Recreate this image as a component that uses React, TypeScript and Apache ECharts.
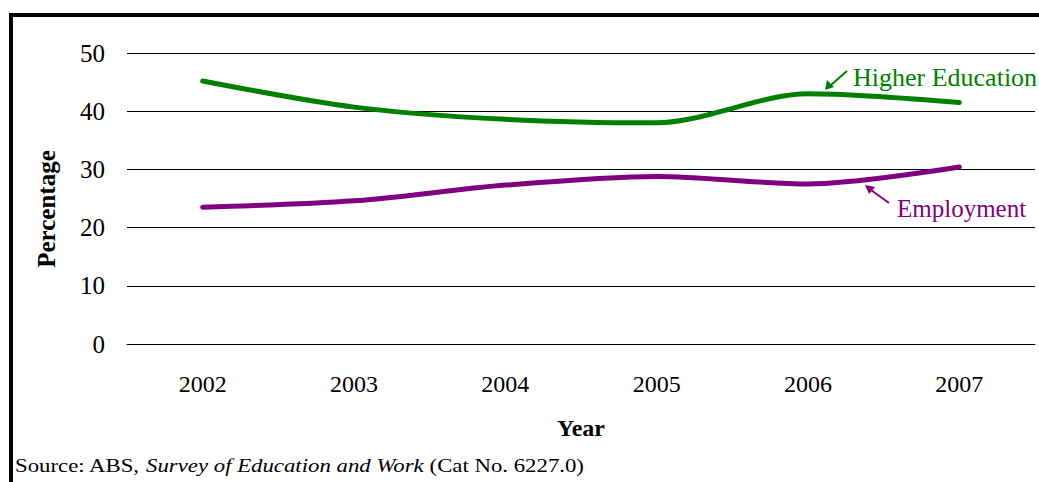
import React, { useEffect, useRef } from "react";
import * as echarts from "echarts";

const years = ["2002", "2003", "2004", "2005", "2006", "2007"];
const higherEducation = [45.2, 40.7, 38.6, 38.0, 43.0, 41.5];
const employment = [23.5, 24.6, 27.3, 28.8, 27.5, 30.4];
const yTicks = { min: 0, max: 50, interval: 10 };

const FONT = "'Liberation Serif', 'Times New Roman', serif";
const GREEN = "#008000";
const PURPLE = "#800080";

export default function App() {
  const ref = useRef<HTMLDivElement>(null);
  useEffect(() => {
    const chart = echarts.init(ref.current!, null, { renderer: "svg" });
    chart.setOption({
      animation: false,
      grid: { left: 127, right: 4, top: 53, bottom: 138, containLabel: false },
      xAxis: {
        type: "category",
        data: years,
        boundaryGap: true,
        axisLine: { show: true, lineStyle: { color: "#000", width: 1 } },
        axisTick: { show: false },
        axisLabel: { color: "#000", fontFamily: FONT, fontSize: 24, margin: 28 },
        name: "Year",
        nameLocation: "middle",
        nameGap: 72,
        nameTextStyle: { color: "#000", fontFamily: FONT, fontSize: 24, fontWeight: "bold" },
      },
      yAxis: {
        type: "value",
        min: yTicks.min,
        max: yTicks.max,
        interval: yTicks.interval,
        axisLine: { show: false },
        axisTick: { show: false },
        splitLine: { lineStyle: { color: "#000", width: 1 } },
        axisLabel: { color: "#000", fontFamily: FONT, fontSize: 25, margin: 22 },
      },
      series: [
        {
          name: "Higher Education",
          type: "line",
          data: higherEducation,
          smooth: 0.3,
          showSymbol: false,
          lineStyle: { color: GREEN, width: 5, cap: "round" },
          itemStyle: { color: GREEN },
        },
        {
          name: "Employment",
          type: "line",
          data: employment,
          smooth: 0.3,
          showSymbol: false,
          lineStyle: { color: PURPLE, width: 5, cap: "round" },
          itemStyle: { color: PURPLE },
        },
      ],
      graphic: [
        { type: "rect", shape: { x: 9, y: 13, width: 1030, height: 4 }, style: { fill: "#000" } },
        { type: "rect", shape: { x: 9, y: 13, width: 4, height: 469 }, style: { fill: "#000" } },
        {
          type: "text",
          x: 46,
          y: 209,
          rotation: Math.PI / 2,
          style: {
            text: "Percentage",
            fill: "#000",
            font: `bold 25px ${FONT}`,
            align: "center",
            verticalAlign: "middle",
          },
        },
        {
          type: "text",
          x: 853,
          y: 77,
          style: { text: "Higher Education", fill: GREEN, font: `26px ${FONT}`, verticalAlign: "middle" },
        },
        { type: "line", shape: { x1: 847, y1: 71, x2: 831, y2: 85 }, style: { stroke: GREEN, lineWidth: 2 } },
        { type: "polygon", shape: { points: [[825, 90], [827, 80], [834, 87]] }, style: { fill: GREEN } },
        {
          type: "text",
          x: 897,
          y: 208,
          style: { text: "Employment", fill: PURPLE, font: `25px ${FONT}`, verticalAlign: "middle" },
        },
        { type: "line", shape: { x1: 889, y1: 203, x2: 871, y2: 190 }, style: { stroke: PURPLE, lineWidth: 2 } },
        { type: "polygon", shape: { points: [[865, 185], [875, 187], [869, 194]] }, style: { fill: PURPLE } },
        {
          type: "text",
          x: 15,
          y: 466,
          scaleX: 1.2,
          style: {
            rich: {
              n: { font: `19px ${FONT}`, fill: "#000" },
              i: { font: `italic 19px ${FONT}`, fill: "#000" },
            },
            text: "{n|Source: ABS, }{i|Survey of Education and Work}{n| (Cat No. 6227.0)}",
            verticalAlign: "middle",
          },
        },
      ],
    });
    return () => chart.dispose();
  }, []);
  return (
    <div
      ref={ref}
      style={{ position: "fixed", left: 0, top: 0, width: 1039, height: 482, background: "#fff" }}
    />
  );
}
